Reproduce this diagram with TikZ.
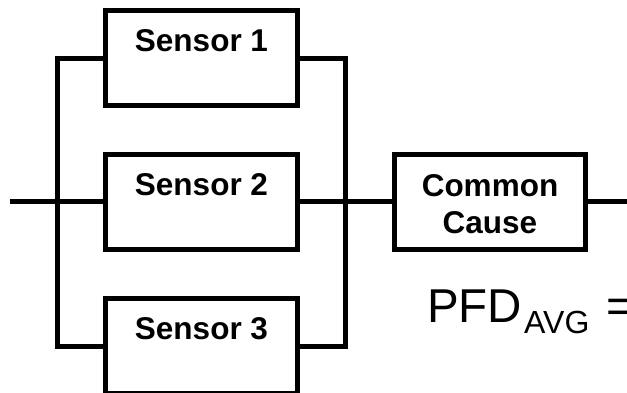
\documentclass[tikz,border=0pt]{standalone}
\usepackage{fontspec}
\setmainfont{Liberation Sans}
\usetikzlibrary{positioning}
\tikzset{
	unit/.style={draw, line width=5pt, outer sep=0pt, minimum width=192pt, minimum height=95pt},
	tag/.style={inner sep=0pt, font=\fontsize{31.5}{34}\selectfont\bfseries, align=center},
	wire/.style={line width=5pt}
}
\begin{document}
\begin{tikzpicture}[x=1pt, y=-1pt]
	\useasboundingbox (0,0) rectangle (627,393);
	\clip (0,0) rectangle (627,393);
	\node[unit] (s1) at (201.5,58.5) {};
	\node[unit] (s2) at (201.5,202) {};
	\node[unit] (s3) at (201.5,346) {};
	\node[unit, minimum width=191pt] (cc) at (490,202) {};
	\node[tag, below=18.5pt of s1.north] {Sensor 1};
	\node[tag, below=18.5pt of s2.north] {Sensor 2};
	\node[tag, below=18.5pt of s3.north] {Sensor 3};
	\node[tag, below=20pt of cc.north] {Common\\[3pt]Cause};
	\coordinate (in) at (9.5,202);
	\coordinate (out) at (627,202);
	\coordinate (bl) at (57.5,0);
	\coordinate (br) at (345.5,0);
	\draw[wire] (s1.west) -| (bl |- s3.west) -- (s3.west);
	\draw[wire] (s1.east) -| (br |- s3.east) -- (s3.east);
	\draw[wire] (in) -- (s2.west);
	\draw[wire] (s2.east) -- (cc.west);
	\draw[wire] (cc.east) -- (out);
	\node[anchor=base west, inner sep=0pt, font=\fontsize{47.5}{50}\selectfont] (pfd) at (427,322)
		{PFD\kern2pt\raisebox{-11pt}{\fontsize{32}{34}\selectfont AVG}\hspace{17pt}=};
\end{tikzpicture}
\end{document}
